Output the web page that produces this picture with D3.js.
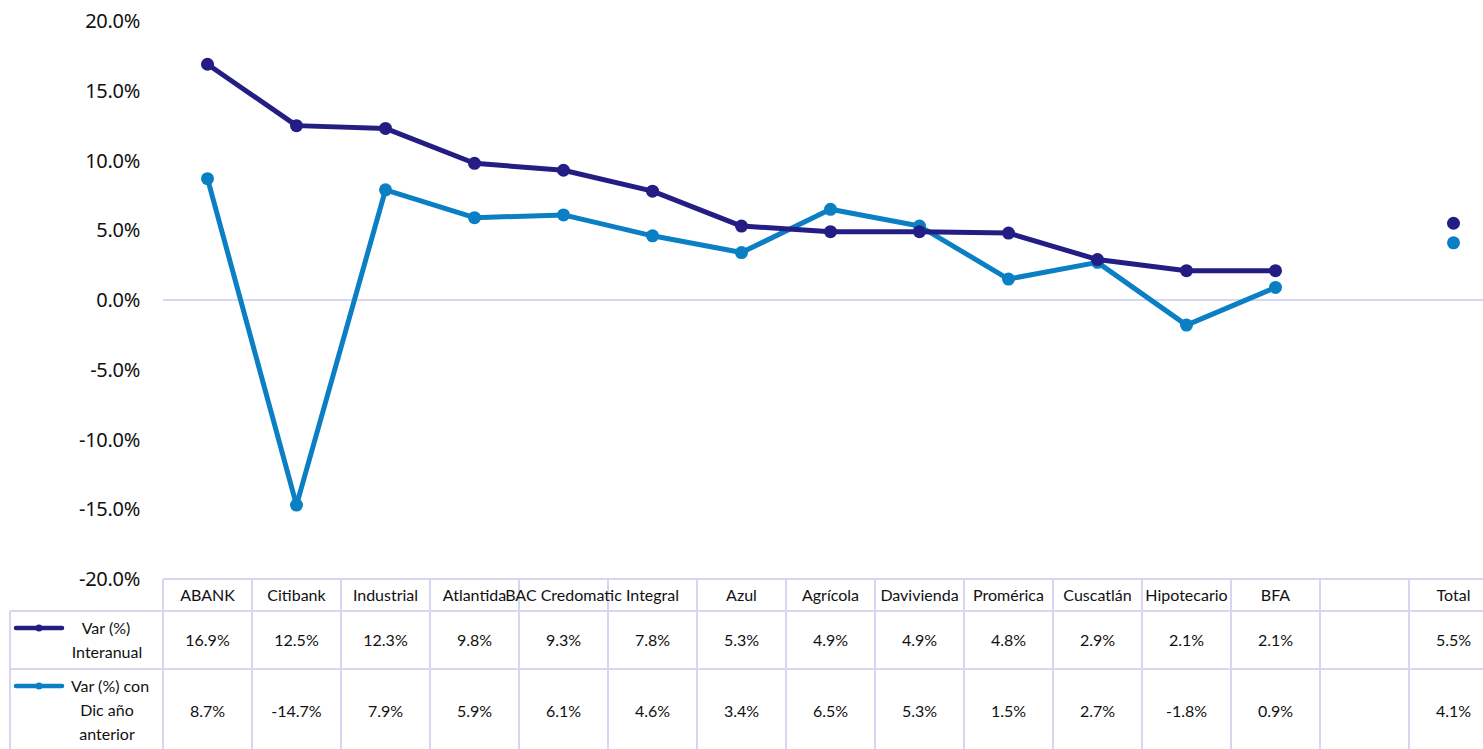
<!DOCTYPE html>
<html>
<head>
<meta charset="utf-8">
<script src="https://cdn.jsdelivr.net/npm/d3@7"></script>
<style>
	body { margin: 0; background: #fff; overflow: hidden; }
	text { font-family: "Lato", "Noto Sans", sans-serif; }
</style>
</head>
<body>
<script>
var categorias = ["ABANK", "Citibank", "Industrial", "Atlantida", "BAC Credomatic", "Integral", "Azul",
	"Agrícola", "Davivienda", "Promérica", "Cuscatlán", "Hipotecario", "BFA", "", "Total"];
var interanual = [16.9, 12.5, 12.3, 9.8, 9.3, 7.8, 5.3, 4.9, 4.9, 4.8, 2.9, 2.1, 2.1, null, 5.5];
var conDic = [8.7, -14.7, 7.9, 5.9, 6.1, 4.6, 3.4, 6.5, 5.3, 1.5, 2.7, -1.8, 0.9, null, 4.1];
var yTicks = [20, 15, 10, 5, 0, -5, -10, -15, -20];

var width = 1483, height = 749;
var svg = d3.select("body").append("svg")
	.attr("width", width)
	.attr("height", height);

var gridColor = "#d6d6f2";
var colInter = "#231d84", colDic = "#0a7fc3";

var x = d3.scaleBand()
	.domain(d3.range(categorias.length))
	.range([163, 1498]);
var y = d3.scaleLinear()
	.domain([-20, 20])
	.range([579, 21]);

// y axis labels
svg.selectAll(".ylab")
	.data(yTicks)
	.enter().append("text")
	.attr("class", "ylab")
	.attr("x", 140)
	.attr("y", function (d) { return y(d); })
	.attr("dy", "0.35em")
	.attr("text-anchor", "end")
	.style("font-family", "'Noto Sans', sans-serif")
	.style("font-size", "20px")
	.style("letter-spacing", "-0.3px")
	.attr("fill", "#111")
	.text(function (d) { return d.toFixed(1) + "%"; });

// zero line
svg.append("line")
	.attr("x1", 163).attr("x2", width)
	.attr("y1", y(0)).attr("y2", y(0))
	.attr("stroke", gridColor).attr("stroke-width", 2);

/*************************************************/
// table
var rowTop = y(-20), rowH = 611, row1 = 669, bottom = 760;
var tbl = svg.append("g");

// horizontal lines
tbl.append("line").attr("x1", 163).attr("x2", width).attr("y1", rowTop).attr("y2", rowTop)
	.attr("stroke", gridColor).attr("stroke-width", 2);
[rowH, row1].forEach(function (yy) {
	tbl.append("line").attr("x1", 10).attr("x2", width).attr("y1", yy).attr("y2", yy)
		.attr("stroke", gridColor).attr("stroke-width", 2);
});
// vertical lines
tbl.append("line").attr("x1", 10).attr("x2", 10).attr("y1", rowH).attr("y2", bottom)
	.attr("stroke", gridColor).attr("stroke-width", 2);
tbl.selectAll(".vline")
	.data(d3.range(categorias.length + 1))
	.enter().append("line")
	.attr("class", "vline")
	.attr("x1", function (i) { return 163 + i * x.bandwidth(); })
	.attr("x2", function (i) { return 163 + i * x.bandwidth(); })
	.attr("y1", rowTop).attr("y2", bottom)
	.attr("stroke", gridColor).attr("stroke-width", 2);

function cellText(arr, yy, fmt) {
	tbl.selectAll(null)
		.data(arr)
		.enter().append("text")
		.attr("x", function (d, i) { return x(i) + x.bandwidth() / 2; })
		.attr("y", yy)
		.attr("dy", "0.35em")
		.attr("text-anchor", "middle")
		.style("font-size", "16px")
		.attr("fill", "#111")
		.text(fmt);
}
cellText(categorias, 595, function (d) { return d; });
cellText(interanual, 640, function (d) { return d == null ? "" : d.toFixed(1) + "%"; });
cellText(conDic, 711, function (d) { return d == null ? "" : d.toFixed(1) + "%"; });

// legend keys
function legendKey(yy, color, lines, ty) {
	tbl.append("line").attr("x1", 16).attr("x2", 62).attr("y1", yy).attr("y2", yy)
		.attr("stroke", color).attr("stroke-width", 4.5).attr("stroke-linecap", "round");
	tbl.append("circle").attr("cx", 39).attr("cy", yy).attr("r", 3.5).attr("fill", color);
	lines.forEach(function (t, i) {
		tbl.append("text")
			.attr("x", i == 0 ? 64 + (t.length > 8 ? 46 : 42) : 107)
			.attr("y", ty + i * 24)
			.attr("dy", "0.35em")
			.attr("text-anchor", "middle")
			.style("font-size", "16px")
			.attr("fill", "#111")
			.text(t);
	});
}
legendKey(628, colInter, ["Var (%)", "Interanual"], 628);
legendKey(686, colDic, ["Var (%) con", "Dic año", "anterior"], 686);

/*************************************************/
// lines
var line = d3.line()
	.defined(function (d) { return d != null; })
	.x(function (d, i) { return x(i) + x.bandwidth() / 2; })
	.y(function (d) { return y(d); });

[[conDic, colDic], [interanual, colInter]].forEach(function (s) {
	// Total is not joined to the rest
	var main = s[0].slice(0, 13).concat([null, null]);
	svg.append("path")
		.datum(main)
		.attr("d", line)
		.attr("fill", "none")
		.attr("stroke", s[1])
		.attr("stroke-width", 5)
		.attr("stroke-linejoin", "round");
	var pts = s[0].map(function (v, i) { return { v: v, i: i }; })
		.filter(function (p) { return p.v != null; });
	svg.selectAll(null)
		.data(pts)
		.enter().append("circle")
		.attr("cx", function (p) { return x(p.i) + x.bandwidth() / 2; })
		.attr("cy", function (p) { return y(p.v); })
		.attr("r", 6.5)
		.attr("fill", s[1]);
});
</script>
</body>
</html>
